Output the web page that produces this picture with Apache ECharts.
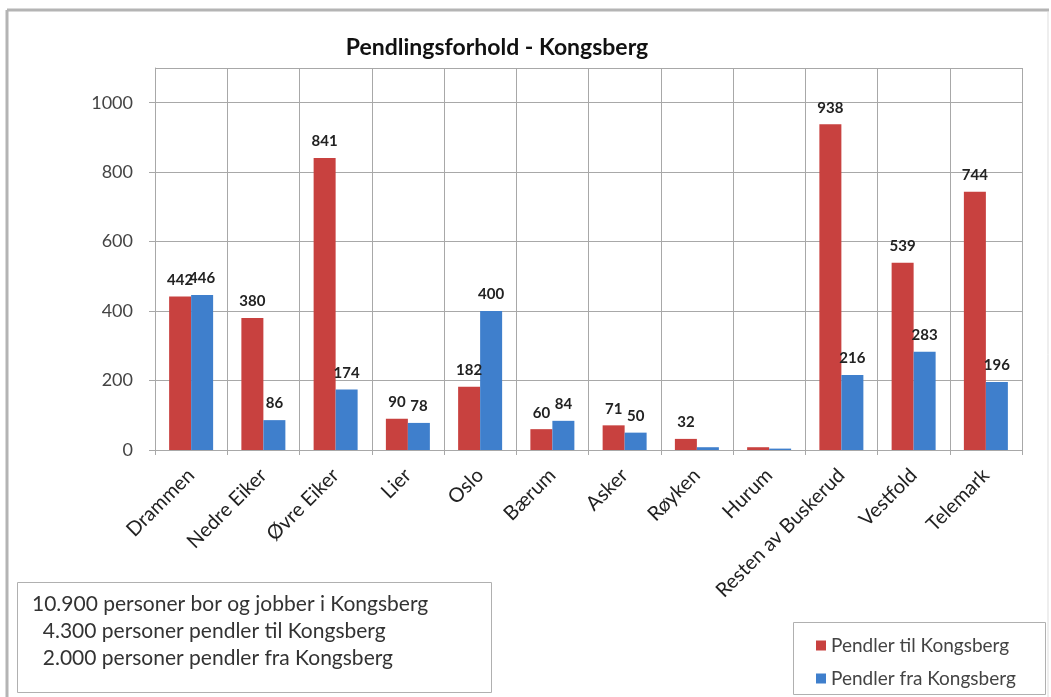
<!DOCTYPE html>
<html>
<head>
<meta charset="utf-8">
<script src="https://cdn.jsdelivr.net/npm/echarts@6/dist/echarts.min.js"></script>
<style>
  html, body { margin: 0; padding: 0; background: #ffffff; }
  #chart { width: 1051px; height: 697px; }
</style>
</head>
<body>
<div id="chart"></div>
<script>
// Kommuner / regioner
const categories = ['Drammen', 'Nedre Eiker', 'Øvre Eiker', 'Lier', 'Oslo', 'Bærum', 'Asker',
  'Røyken', 'Hurum', 'Resten av Buskerud', 'Vestfold', 'Telemark'];
// Antall som pendler til Kongsberg
const pendlerTil = [442, 380, 841, 90, 182, 60, 71, 32, 8, 938, 539, 744];
// Antall som pendler fra Kongsberg
const pendlerFra = [446, 86, 174, 78, 400, 84, 50, 8, 4, 216, 283, 196];
const seriesNames = ['Pendler til Kongsberg', 'Pendler fra Kongsberg'];
const infoLines = [
  '10.900 personer bor og jobber i Kongsberg',
  '  4.300 personer pendler til Kongsberg',
  '  2.000 personer pendler fra Kongsberg'
];
const titleText = 'Pendlingsforhold - Kongsberg';

const FONT = 'Lato, "Open Sans", sans-serif';
const GRID = '#a8a8a8';

const chart = echarts.init(document.getElementById('chart'));

const barLabel = {
  show: true,
  position: 'top',
  distance: 9,
  fontFamily: FONT,
  fontWeight: 'bold',
  fontSize: 15,
  color: '#222',
  formatter: p => (p.value >= 20 ? String(p.value) : '')
};

chart.setOption({
  backgroundColor: '#ffffff',
  animation: false,
  title: {
    text: titleText,
    left: 492,
    top: 31,
    textAlign: 'center',
    textStyle: { fontFamily: FONT, fontWeight: 'bold', fontSize: 23, color: '#111' }
  },
  grid: { left: 155, right: 29, top: 68, bottom: 247, containLabel: false },
  legend: {
    orient: 'vertical',
    left: 811,
    top: 631,
    itemWidth: 10,
    itemHeight: 10,
    itemGap: 14,
    icon: 'rect',
    data: seriesNames,
    textStyle: { fontFamily: FONT, fontSize: 19, color: '#444' }
  },
  xAxis: {
    type: 'category',
    data: categories,
    axisLine: { lineStyle: { color: GRID } },
    axisTick: { show: true, length: 5, lineStyle: { color: GRID } },
    splitLine: { show: true, lineStyle: { color: GRID } },
    axisLabel: {
      interval: 0,
      rotate: 45,
      margin: 22,
      fontFamily: FONT,
      fontSize: 20,
      color: '#222'
    }
  },
  yAxis: {
    type: 'value',
    min: 0,
    max: 1100,
    interval: 200,
    axisLine: { show: true, lineStyle: { color: GRID } },
    axisTick: { show: true, length: 6, lineStyle: { color: GRID } },
    splitLine: { show: true, lineStyle: { color: GRID } },
    axisLabel: {
      showMaxLabel: false,
      margin: 22,
      fontFamily: FONT,
      fontSize: 18,
      color: '#444',
      formatter: v => String(v)
    }
  },
  series: [
    {
      name: seriesNames[0],
      type: 'bar',
      data: pendlerTil,
      barWidth: 22,
      barGap: '0%',
      itemStyle: { color: '#C8413F' },
      label: barLabel
    },
    {
      name: seriesNames[1],
      type: 'bar',
      data: pendlerFra,
      barWidth: 22,
      barGap: '0%',
      itemStyle: { color: '#3F7FCC' },
      label: barLabel
    }
  ],
  graphic: [
    // chart frame
    { type: 'line', shape: { x1: 7, y1: 10, x2: 1049, y2: 10 }, style: { stroke: '#b4b4b4', lineWidth: 3 } },
    { type: 'line', shape: { x1: 7, y1: 10, x2: 7, y2: 697 }, style: { stroke: '#b4b4b4', lineWidth: 3 } },
    { type: 'line', shape: { x1: 1048, y1: 12, x2: 1048, y2: 697 }, style: { stroke: '#dddddd', lineWidth: 1 } },
    // summary text box
    { type: 'rect', shape: { x: 17.5, y: 582.5, width: 474, height: 110 },
      style: { fill: '#ffffff', stroke: '#b0b0b0', lineWidth: 1 } },
    ...infoLines.map((t, i) => ({
      type: 'text',
      left: 32,
      top: 594 + i * 27,
      style: { text: t, fontFamily: FONT, fontSize: 21, fill: '#333', whiteSpace: 'pre' }
    })),
    // legend frame
    { type: 'rect', shape: { x: 793.5, y: 622.5, width: 252, height: 72 },
      style: { fill: 'none', stroke: '#b0b0b0', lineWidth: 1 }, z: -1 }
  ]
});
</script>
</body>
</html>
